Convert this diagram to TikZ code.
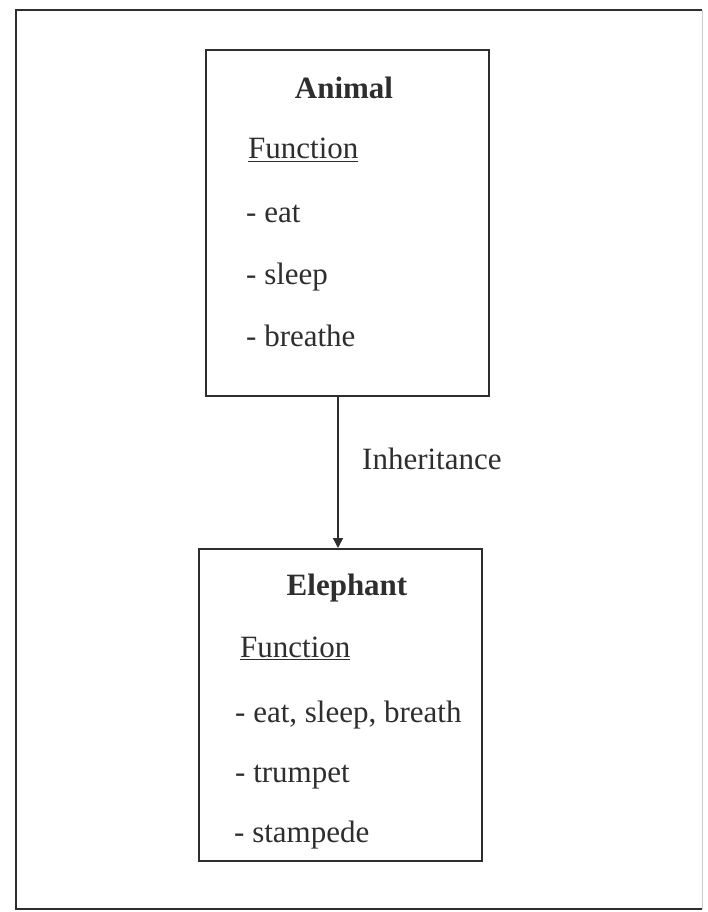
\documentclass[tikz,border=0pt]{standalone}
\usepackage{fontspec}
\setmainfont{Liberation Serif}
\usetikzlibrary{arrows.meta}
\definecolor{ink}{gray}{0.18}
\begin{document}
\begin{tikzpicture}[x=1pt,y=-1pt,
  txt/.style={anchor=base west,inner sep=0pt,text=ink,font=\fontsize{31}{37}\selectfont},
  ttl/.style={anchor=base,inner sep=0pt,text=ink,font=\fontsize{31}{37}\selectfont\bfseries},
  boxframe/.style={draw=ink,line width=2pt,inner sep=0pt,anchor=north west,minimum width=283pt},
  arr/.style={draw=ink,line width=1.6pt,-{Triangle[length=10pt,width=10pt]}}]
\useasboundingbox (0,0) rectangle (707,912);
\fill[white] (0,0) rectangle (707,912);
% outer frame
\draw[ink,line width=2pt] (702,10) -- (16,10) -- (16,909) -- (702,909);
\draw[gray!40,line width=1pt] (702,10) -- (702,909);
% boxes
\node[boxframe,minimum height=346pt] (animal) at (205,49) {};
\node[boxframe,minimum height=312pt] (elephant) at (198,548) {};
% Animal texts
\node[ttl] (atitle) at (344,99) {Animal};
\node[txt] (afun) at (248,159) {\underline{Function}};
\node[txt] (a1) at (246,222) {- eat};
\node[txt] (a2) at (246,284) {- sleep};
\node[txt] (a3) at (246,346) {- breathe};
% connector
\coordinate (ax) at (338,470);
\draw[arr] (animal.south -| ax) -- (elephant.north -| ax);
\node[txt] (inh) at (362,469) {Inheritance};
% Elephant texts
\node[ttl] (etitle) at (347,595) {Elephant};
\node[txt] (efun) at (240,657) {\underline{Function}};
\node[txt] (e1) at (235,722) {- eat, sleep, breath};
\node[txt] (e2) at (235,782) {- trumpet};
\node[txt] (e3) at (234,842) {- stampede};
\end{tikzpicture}
\end{document}
